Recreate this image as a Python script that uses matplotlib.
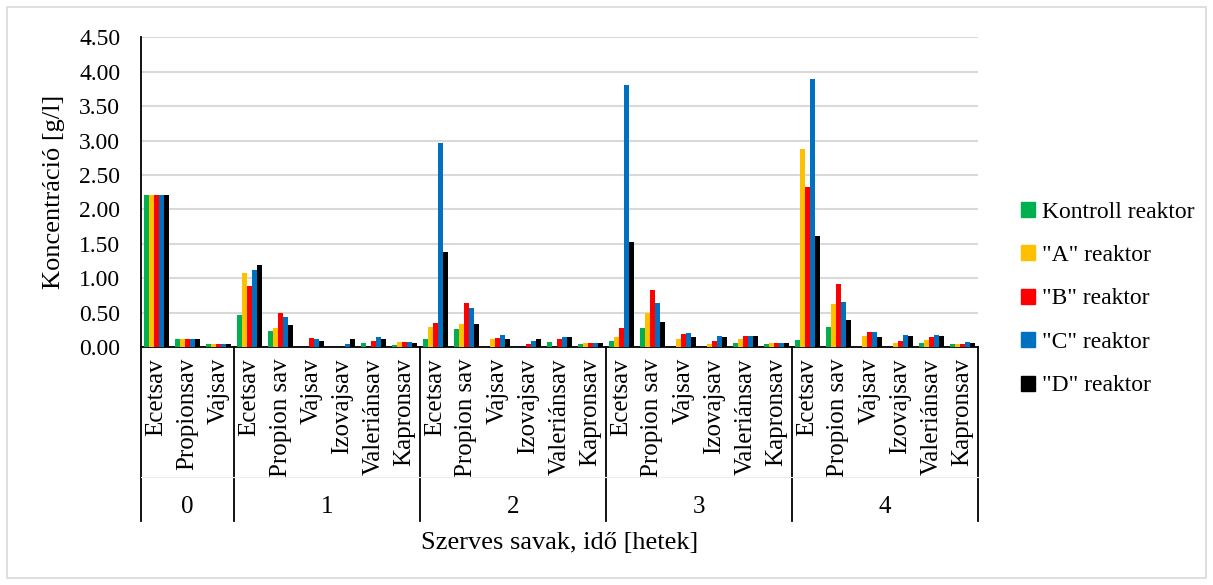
import numpy as np
import matplotlib.pyplot as plt
from matplotlib.patches import Rectangle
from matplotlib.lines import Line2D

plt.rcParams['font.family'] = ['Liberation Serif', 'DejaVu Serif']

# acids measured per week (week 0 only had three)
weeks = ["0", "1", "2", "3", "4"]
acids_w0 = ["Ecetsav", "Propionsav", "Vajsav"]
acids = ["Ecetsav", "Propion sav", "Vajsav", "Izovajsav", "Valeriánsav", "Kapronsav"]
categories = acids_w0 + acids * 4
week_sizes = [3, 6, 6, 6, 6]

kontroll = [2.21, 0.12, 0.05, 0.46, 0.23, 0, 0, 0.06, 0.03,
            0.12, 0.26, 0, 0, 0.07, 0.05, 0.09, 0.27, 0, 0, 0.06, 0.05,
            0.10, 0.29, 0, 0, 0.06, 0.05]
reaktor_a = [2.21, 0.12, 0.05, 1.08, 0.27, 0, 0, 0, 0.07,
             0.29, 0.34, 0.11, 0, 0, 0.06, 0.14, 0.49, 0.12, 0.05, 0.11, 0.06,
             2.88, 0.62, 0.16, 0.06, 0.10, 0.05]
reaktor_b = [2.21, 0.12, 0.05, 0.89, 0.50, 0.13, 0, 0.09, 0.07,
             0.35, 0.64, 0.13, 0.05, 0.12, 0.06, 0.27, 0.83, 0.19, 0.08, 0.155, 0.06,
             2.33, 0.92, 0.22, 0.09, 0.145, 0.05]
reaktor_c = [2.21, 0.12, 0.05, 1.12, 0.43, 0.12, 0.045, 0.14, 0.07,
             2.97, 0.56, 0.17, 0.09, 0.14, 0.06, 3.81, 0.64, 0.21, 0.16, 0.16, 0.06,
             3.90, 0.65, 0.22, 0.17, 0.17, 0.07]
reaktor_d = [2.21, 0.12, 0.05, 1.19, 0.32, 0.09, 0.12, 0.11, 0.06,
             1.38, 0.33, 0.12, 0.12, 0.145, 0.06, 1.52, 0.37, 0.14, 0.14, 0.16, 0.06,
             1.61, 0.39, 0.14, 0.155, 0.165, 0.06]

series = [kontroll, reaktor_a, reaktor_b, reaktor_c, reaktor_d]
names = ["Kontroll reaktor", '"A" reaktor', '"B" reaktor', '"C" reaktor', '"D" reaktor']
colors = ["#00b050", "#ffc000", "#ff0000", "#0070c0", "#000000"]

fig = plt.figure(figsize=(12.13, 5.85), dpi=100)
ax = fig.add_axes([141 / 1213, 1 - 347 / 585, 837 / 1213, (347 - 37.3) / 585])

x = np.arange(len(categories))
w = 0.162
for i, (vals, name, c) in enumerate(zip(series, names, colors)):
    ax.bar(x + (i - 2) * w, vals, width=w, color=c, label=name, zorder=3)

ax.set_xlim(-0.5, len(categories) - 0.5)
ax.set_ylim(0, 4.5)
ax.set_yticks(np.arange(0, 4.51, 0.5))
ax.set_yticklabels([f"{v:.2f}" for v in np.arange(0, 4.51, 0.5)], fontsize=17)
ax.yaxis.grid(True, color="#d9d9d9", linewidth=1.5, zorder=0)
ax.tick_params(axis="y", length=0, pad=15)
ax.set_xticks(x)
ax.set_xticklabels(categories, rotation=90, fontsize=18)
ax.tick_params(axis="x", length=0, pad=8)
for s in ["top", "right"]:
    ax.spines[s].set_visible(False)
ax.spines["left"].set_linewidth(1.3)
ax.spines["bottom"].set_linewidth(1.3)

ax.set_ylabel("Koncentráció [g/l]", fontsize=19, labelpad=10)

# second tier of the category axis: week numbers and separators
trans = ax.get_xaxis_transform()
bounds = np.concatenate([[0], np.cumsum(week_sizes)]) - 0.5
for b in bounds:
    ax.add_line(Line2D([b, b], [0, -0.562], transform=trans, color="black",
                       linewidth=1.3, clip_on=False))
ax.add_line(Line2D([-0.5, len(categories) - 0.5], [-0.42, -0.42],
                   transform=trans, color="#eeeeee", linewidth=0.8, clip_on=False))
for wk, lo, hi in zip(weeks, bounds[:-1], bounds[1:]):
    ax.text((lo + hi) / 2, -0.517, wk, transform=trans, ha="center", va="center",
            fontsize=18)

fig.text((141 + 978) / 2 / 1213, 1 - 543 / 585, "Szerves savak, idő [hetek]",
         ha="center", va="center", fontsize=19)

handles = [Rectangle((0, 0), 1, 1, color=c) for c in colors]
fig.legend(handles, names, loc="center left", bbox_to_anchor=(1000 / 1213, 1 - 299 / 585),
           frameon=False, fontsize=17, handlelength=0.6, handleheight=0.6,
           handletextpad=0.3, labelspacing=0.95)

fig.add_artist(Rectangle((7 / 1213, 7 / 585), 1 - 14 / 1213, 1 - 14 / 585,
                         transform=fig.transFigure, fill=False,
                         edgecolor="#d9d9d9", linewidth=1.2))

fig.savefig("out.png", dpi=100)
